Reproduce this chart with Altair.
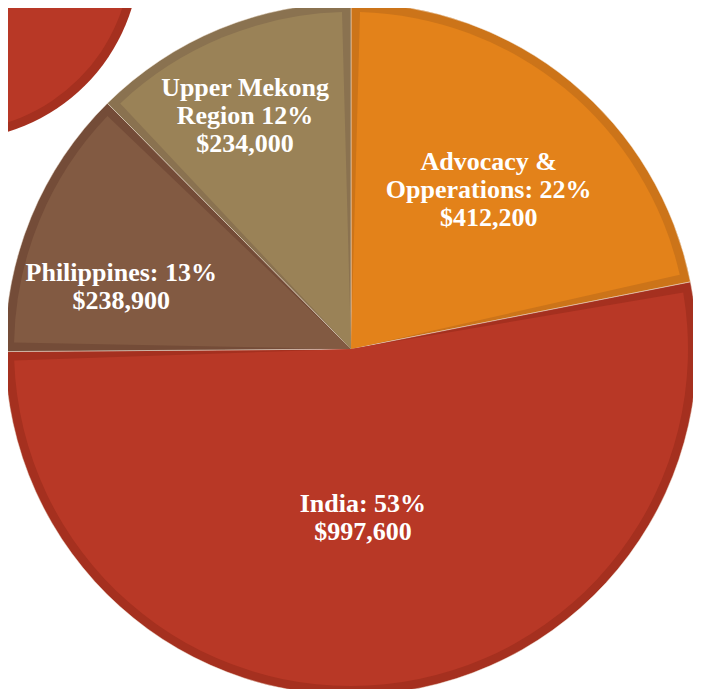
import altair as alt
import pandas as pd

categories = ["Advocacy & Opperations", "India", "Philippines", "Upper Mekong Region"]
amounts = [412200, 997600, 238900, 234000]
labels = [
    "Advocacy &\nOpperations: 22%\n$412,200",
    "India: 53%\n$997,600",
    "Philippines: 13%\n$238,900",
    "Upper Mekong\nRegion 12%\n$234,000",
]
order = [0, 1, 2, 3]

fills = ["#E3821A", "#B83826", "#825A42", "#9A8257"]
borders = ["#CC7419", "#A5301F", "#744C38", "#8A7250"]

df = pd.DataFrame({"cat": categories, "amount": amounts, "label": labels, "idx": order})
deco = pd.DataFrame({"v": [1]})

W, H = 685, 681
CX, CY = 343, 341
R = 346
BW = 9

base = alt.Chart(df)

outer = base.mark_arc(radius=R, stroke="#f3e6d8", strokeWidth=0.8, strokeOpacity=0.6).encode(
    theta=alt.Theta("amount:Q", stack=True),
    order=alt.Order("idx:O"),
    color=alt.Color("cat:N", scale=alt.Scale(domain=categories, range=borders), legend=None),
    x=alt.value(CX), y=alt.value(CY),
)

inner = base.mark_arc(radius=R - BW, padAngle=2 * BW / (R - BW)).encode(
    theta=alt.Theta("amount:Q", stack=True),
    order=alt.Order("idx:O"),
    fill=alt.Fill("cat:N", scale=alt.Scale(domain=categories, range=fills), legend=None),
    x=alt.value(CX), y=alt.value(CY),
)

pie = alt.layer(outer, inner).resolve_scale(color="independent", fill="independent")

# label placement: mid-angle of each slice, with per-slice nudges (first line anchor)
text = base.transform_joinaggregate(
    total="sum(amount)"
).transform_window(
    cum="sum(amount)", sort=[alt.SortField("idx")]
).transform_calculate(
    mid="((datum.cum - datum.amount / 2) / datum.total) * 360",
    adj="datum.idx == 0 ? -3.0 : datum.idx == 1 ? 1.4 : datum.idx == 2 ? -4.1 : 0.3",
    lr="datum.idx == 0 ? 232 : datum.idx == 1 ? 155 : datum.idx == 2 ? 242 : 282",
    ang="(datum.mid + datum.adj) * PI / 180",
).mark_text(
    font="Liberation Serif", fontWeight="bold", fontSize=26, color="white",
    lineBreak="\n", lineHeight=28, align="center", baseline="middle",
).encode(
    theta=alt.Theta("ang:Q", scale=None),
    radius=alt.Radius("lr:Q", scale=None),
    text="label:N",
    x=alt.value(CX), y=alt.value(CY),
)

deco_outer = alt.Chart(deco).mark_arc(radius=187, color="#A5301F").encode(
    theta=alt.Theta("v:Q", scale=alt.Scale(domain=[0, 1])), x=alt.value(-55), y=alt.value(-55)
)
deco_inner = alt.Chart(deco).mark_arc(radius=178, color="#B83826").encode(
    theta=alt.Theta("v:Q", scale=alt.Scale(domain=[0, 1])), x=alt.value(-55), y=alt.value(-55)
)
decoration = alt.layer(deco_outer, deco_inner)

chart = alt.layer(decoration, pie, text).resolve_scale(
    theta="independent", color="independent", fill="independent"
).properties(
    width=W, height=H, padding=0, autosize=alt.AutoSizeParams(type="none")
).configure_view(stroke=None)

chart.save("out.html", embed_options={"renderer": "svg", "actions": False})
